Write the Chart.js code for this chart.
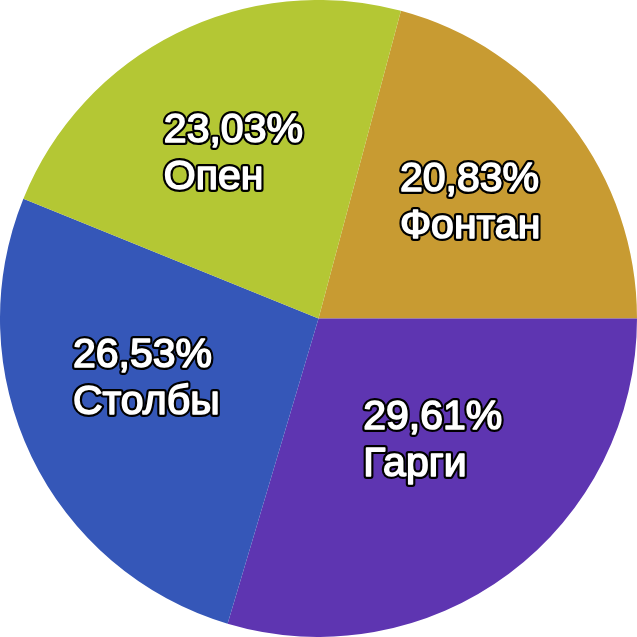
<!DOCTYPE html>
<html>
<head>
<meta charset="utf-8">
<script src="https://cdn.jsdelivr.net/npm/chart.js@4"></script>
<style>
  html, body { margin: 0; padding: 0; background: #fff; }
  #wrap { width: 637px; height: 637px; }
</style>
</head>
<body>
<div id="wrap"><canvas id="pie" width="637" height="637"></canvas></div>
<script>
const categories = ["Фонтан", "Гарги", "Столбы", "Опен"];
const shares = [20.83, 29.61, 26.53, 23.03];
const sliceColors = ["#C89B32", "#5E35B1", "#3557B8", "#B4C734"];

// подписи внутри секторов: процент и название, белым с чёрной обводкой
const sliceLabels = {
  id: "sliceLabels",
  afterDatasetsDraw(chart) {
    const ctx = chart.ctx;
    const meta = chart.getDatasetMeta(0);
    ctx.save();
    ctx.font = "41px 'Liberation Sans'";
    ctx.textAlign = "left";
    ctx.textBaseline = "alphabetic";
    ctx.lineJoin = "round";
    meta.data.forEach((arc, i) => {
      const p = arc.getProps(["x", "y", "startAngle", "endAngle", "outerRadius"], true);
      const mid = (p.startAngle + p.endAngle) / 2;
      const cx = p.x + Math.cos(mid) * p.outerRadius * 0.6;
      const cy = p.y + Math.sin(mid) * p.outerRadius * 0.53 - 13;
      const lines = [shares[i].toFixed(2).replace(".", ",") + "%", categories[i]];
      const w = Math.max(...lines.map((t) => ctx.measureText(t).width));
      const lh = 47;
      const left = cx - w / 2;
      const top = cy - lh;
      lines.forEach((t, k) => {
        const by = top + 35 + k * lh;
        ctx.lineWidth = 6;
        ctx.strokeStyle = "#000";
        ctx.strokeText(t, left, by);
        ctx.lineWidth = 1.6;
        ctx.strokeStyle = "#fff";
        ctx.strokeText(t, left, by);
        ctx.fillStyle = "#fff";
        ctx.fillText(t, left, by);
      });
    });
    ctx.restore();
  },
};

new Chart(document.getElementById("pie"), {
  type: "pie",
  data: {
    labels: categories,
    datasets: [
      {
        data: shares,
        backgroundColor: sliceColors,
        borderWidth: 0,
      },
    ],
  },
  options: {
    responsive: false,
    animation: false,
    rotation: 15,
    layout: { padding: 0 },
    plugins: {
      legend: { display: false },
      tooltip: { enabled: false },
    },
  },
  plugins: [sliceLabels],
});
</script>
</body>
</html>
